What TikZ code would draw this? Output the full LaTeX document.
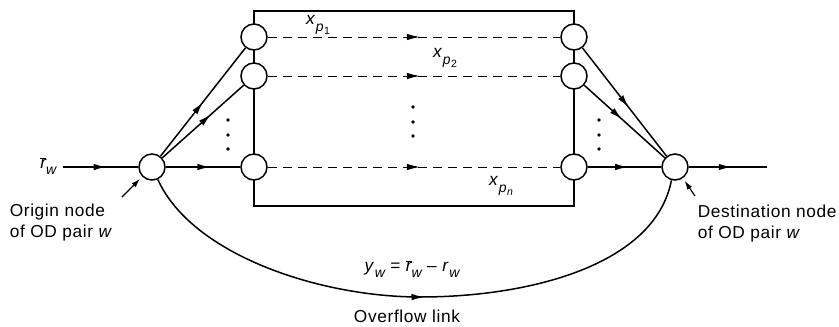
\documentclass[tikz,border=0pt]{standalone}
\usepackage{fontspec}
\setmainfont{Liberation Sans}[LetterSpace=3.7]
\usetikzlibrary{arrows.meta,decorations.markings}
\newcommand{\xsub}[2]{\textit{#1}\raisebox{-7pt}{\fontsize{14}{14}\selectfont\textit{p}\raisebox{-3.5pt}{\fontsize{10.5}{10.5}\selectfont #2}}}
\newcommand{\wsub}{\raisebox{-6pt}{\fontsize{14}{14}\selectfont\itshape w}}
\newcommand{\rbar}{$\overline{\hbox{\itshape r}}$}
\begin{document}
\begin{tikzpicture}[x=1pt,y=-1pt,line width=1.5pt,
  >={Latex[length=13pt,width=6.5pt]},
  vtx/.style={circle,draw,fill=white,minimum size=26pt,inner sep=0pt,line width=1.5pt},
  midarrow/.style={postaction={decorate},decoration={markings,mark=at position #1 with {\arrow{>}}}},
  pathline/.style={dash pattern=on 9pt off 6pt,line width=1pt},
  pointer/.style={-{Latex[length=9pt,width=5.5pt]},line width=1.2pt,shorten >=3pt},
  lbl/.style={font=\fontsize{17.3}{21}\selectfont,inner sep=0pt}
]
\useasboundingbox (0,0) rectangle (839,327);
% path box
\draw (254,11) rectangle (574,206);
% nodes
\node[vtx] (O) at (152,167) {};
\node[vtx] (D) at (675,167) {};
\node[vtx] (L1) at (254,37) {};
\node[vtx] (L2) at (254,76) {};
\node[vtx] (L3) at (254,167) {};
\node[vtx] (R1) at (574,37) {};
\node[vtx] (R2) at (574,76) {};
\node[vtx] (R3) at (574,167) {};
% dots
\foreach \y in {120,135,149} {\fill (228,\y) circle (1.8pt); \fill (599,\y) circle (1.8pt);}
\foreach \y in {107,122,136} {\fill (413,\y) circle (1.8pt);}
% input / output
\coordinate (in) at (63,167);
\coordinate (out) at (767,167);
\draw[midarrow=0.58] (in) -- (O);
\draw[midarrow=0.55] (D) -- (out);
% fans
\draw[midarrow=0.5] (O) -- (L1);
\draw[midarrow=0.6] (O) -- (L2);
\draw[midarrow=0.6] (O) -- (L3);
\draw[midarrow=0.55] (R1) -- (D);
\draw[midarrow=0.47] (R2) -- (D);
\draw[midarrow=0.55] (R3) -- (D);
% dashed paths
\draw[pathline,midarrow=0.52] (L1) -- (R1);
\draw[pathline,midarrow=0.52] (L2) -- (R2);
\draw[pathline,midarrow=0.52] (L3) -- (R3);
% overflow link
\draw[midarrow=0.51] (O.-65) .. controls (192,255) and (320,297) .. (420,297)
   .. controls (530,297) and (655,265) .. (D.-105);
% labels
\node[lbl,anchor=east] (rbar) at (57,166) {\rbar\wsub};
\node[lbl] (xp1) at (318,25) {\xsub{x}{1}};
\node[lbl] (xp2) at (445,58) {\xsub{x}{2}};
\node[lbl] (xpn) at (501,186) {\xsub{x}{\itshape n}};
\node[lbl] (yw) at (412,269) {\textit{y}\wsub\ = \rbar\wsub\ -- \textit{r}\wsub};
\node[lbl] (ovf) at (407,316.5) {Overflow link};
\node[lbl,anchor=north west,align=left] (olab) at (9,203) {Origin node\\of OD pair \textit{w}};
\node[lbl,anchor=north west,align=left] (dlab) at (697,204) {Destination node\\of OD pair \textit{w}};
\coordinate (otail) at (122,197);
\coordinate (dtail) at (695,196);
\draw[pointer] (otail) -- (O.-135);
\draw[pointer] (dtail) -- (D.-55);
\end{tikzpicture}
\end{document}
